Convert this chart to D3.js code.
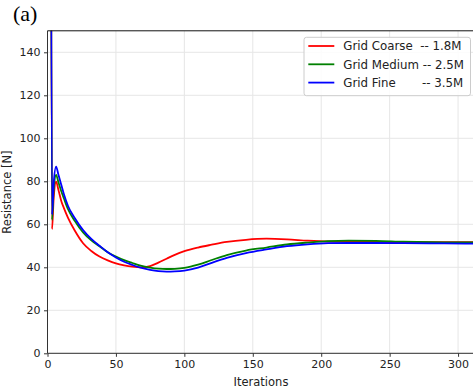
<!DOCTYPE html>
<html>
<head>
<meta charset="utf-8">
<script src="https://cdn.jsdelivr.net/npm/d3@7"></script>
<style>
  html, body { margin: 0; padding: 0; background: #fff; }
  svg { display: block; }
  text { font-family: "DejaVu Sans", sans-serif; }
</style>
</head>
<body>
<svg id="chart" width="473" height="392"></svg>
<script>
// Solver convergence history: resistance per iteration on three meshes
const iterations = [2, 3.3, 4.5, 6.3, 8, 10, 12, 15, 20, 26, 32, 38, 44, 50, 56, 62, 68, 75, 81, 87, 93,
                    100, 110, 120, 131, 145, 160, 175, 190, 205, 220, 240, 260, 290, 320];
const coarse = [420, 57.7, 72, 79.8, 76, 71, 67.5, 63, 57, 51.2, 47.6, 45, 43.2, 41.8, 40.9, 40.3, 40.0, 40.6, 42.2, 44, 45.8,
                47.5, 49.2, 50.5, 51.8, 52.8, 53.3, 53.0, 52.4, 52.0, 51.9, 51.8, 51.7, 51.7, 51.7];
const medium = [420, 62, 76, 83, 79.5, 75.5, 72, 67, 61.5, 56.2, 52.5, 49.8, 47, 45, 43.3, 42, 40.8, 39.9, 39.4, 39.2, 39.3,
                39.7, 41.2, 43.4, 45.7, 47.8, 49.2, 50.6, 51.5, 52.2, 52.4, 52.3, 51.9, 51.6, 51.5];
const fine   = [420, 64.5, 79, 86.8, 83, 78.5, 74, 68.5, 62.8, 57.3, 53.2, 50, 47, 44.6, 42.6, 41.1, 39.8, 38.8, 38.2, 38.0, 38.1,
                38.5, 39.9, 42.1, 44.4, 46.6, 48.3, 49.8, 50.7, 51.2, 51.3, 51.3, 51.2, 51.1, 51.0];

const seriesNames  = ["Grid Coarse  -- 1.8M", "Grid Medium -- 2.5M", "Grid Fine       -- 3.5M"];
const seriesColors = ["#ff0000", "#008000", "#0000ff"];
const xTicks = [0, 50, 100, 150, 200, 250, 300];
const yTicks = [0, 20, 40, 60, 80, 100, 120, 140];

const series = [coarse, medium, fine].map((vals, i) => ({
  name: seriesNames[i],
  color: seriesColors[i],
  points: iterations.map((it, j) => ({ x: it, y: vals[j] }))
}));

const svg = d3.select("#chart");
const plot = { left: 47.5, right: 474.5, top: 30.8, bottom: 353.3 };

const x = d3.scaleLinear().domain([0, 312]).range([plot.left, plot.right]);
const y = d3.scaleLinear().domain([0, 150]).range([plot.bottom, plot.top]);

// Grid
const grid = svg.append("g").attr("stroke", "#e6e6e6").attr("stroke-width", 1);
grid.selectAll("line.vx").data(xTicks).join("line")
  .attr("x1", d => x(d)).attr("x2", d => x(d))
  .attr("y1", plot.top).attr("y2", plot.bottom);
grid.selectAll("line.hy").data(yTicks).join("line")
  .attr("x1", plot.left).attr("x2", plot.right)
  .attr("y1", d => y(d)).attr("y2", d => y(d));

// Curves, clipped to the axes box
svg.append("clipPath").attr("id", "plotclip")
  .append("rect")
  .attr("x", plot.left).attr("y", plot.top)
  .attr("width", plot.right - plot.left).attr("height", plot.bottom - plot.top);

const line = d3.line().x(d => x(d.x)).y(d => y(d.y)).curve(d3.curveMonotoneX);
svg.append("g").attr("clip-path", "url(#plotclip)")
  .selectAll("path").data(series).join("path")
  .attr("fill", "none")
  .attr("stroke", d => d.color)
  .attr("stroke-width", 1.8)
  .attr("stroke-linejoin", "round")
  .attr("d", d => line(d.points));

// Axes
const xAxis = svg.append("g")
  .attr("transform", `translate(0,${plot.bottom})`)
  .call(d3.axisBottom(x).tickValues(xTicks).tickSize(3.5).tickPadding(3.5).tickFormat(d3.format("d")));
const yAxis = svg.append("g")
  .attr("transform", `translate(${plot.left},0)`)
  .call(d3.axisLeft(y).tickValues(yTicks).tickSize(3.5).tickPadding(3.5).tickFormat(d3.format("d")));

[xAxis, yAxis].forEach(a => {
  a.select(".domain").attr("stroke", "#333").attr("stroke-width", 1);
  a.selectAll(".tick line").attr("stroke", "#333");
  a.selectAll(".tick text").attr("fill", "#222").style("font-size", "11px")
    .style("font-family", "'DejaVu Sans', sans-serif");
});
xAxis.select(".domain").attr("d", `M${plot.left},0H${plot.right}`);
yAxis.select(".domain").attr("d", `M0,${plot.bottom}V${plot.top}`);

// Top spine
svg.append("line")
  .attr("x1", plot.left).attr("x2", plot.right)
  .attr("y1", plot.top).attr("y2", plot.top)
  .attr("stroke", "#111").attr("stroke-width", 1);

// Axis labels
svg.append("text")
  .attr("x", (plot.left + plot.right) / 2).attr("y", 386)
  .attr("text-anchor", "middle")
  .attr("fill", "#222")
  .style("font-size", "11.5px")
  .text("Iterations");

svg.append("text")
  .attr("transform", `translate(10.5,${(plot.top + plot.bottom) / 2}) rotate(-90)`)
  .attr("text-anchor", "middle")
  .attr("fill", "#222")
  .style("font-size", "11.5px")
  .text("Resistance [N]");

// Panel tag
svg.append("text")
  .attr("x", 13).attr("y", 21)
  .style("font-family", "'Liberation Serif', 'Times New Roman', serif")
  .style("font-size", "22px")
  .attr("fill", "#000")
  .text("(a)");

// Legend
const legend = svg.append("g");
legend.append("rect")
  .attr("x", 304).attr("y", 37.3).attr("width", 166.5).attr("height", 58.4)
  .attr("rx", 2.5)
  .attr("fill", "#fff").attr("fill-opacity", 0.85)
  .attr("stroke", "#cccccc").attr("stroke-width", 1);

const rowY = [46, 64.3, 82.6];
const entry = legend.selectAll("g.entry").data(series).join("g")
  .attr("transform", (d, i) => `translate(0,${rowY[i]})`);
entry.append("line")
  .attr("x1", 308.3).attr("x2", 334.3).attr("y1", 0).attr("y2", 0)
  .attr("stroke", d => d.color).attr("stroke-width", 1.8);
entry.append("text")
  .attr("x", 343.3).attr("y", 4.2)
  .attr("fill", "#222")
  .attr("xml:space", "preserve")
  .style("white-space", "pre")
  .style("font-size", "11.8px")
  .text(d => d.name);
</script>
</body>
</html>
